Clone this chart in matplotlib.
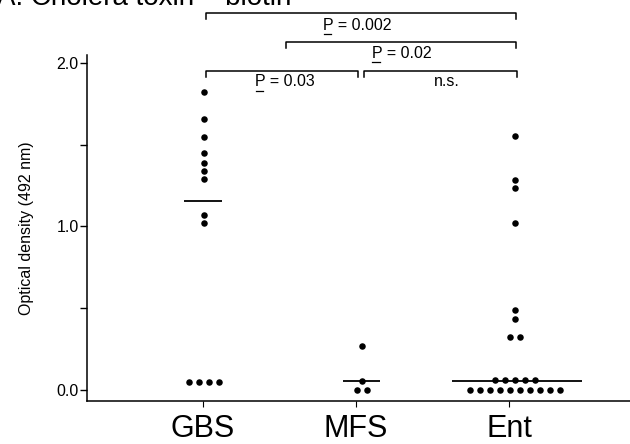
import numpy as np
import matplotlib
matplotlib.use("Agg")
import matplotlib.pyplot as plt

plt.rcParams['font.family'] = ['Liberation Sans', 'DejaVu Sans']

# groups and optical density values (492 nm)
groups = ['GBS', 'MFS', 'Ent']
gbs = [1.82, 1.66, 1.55, 1.45, 1.39, 1.34, 1.29, 1.07, 1.02,
       0.05, 0.05, 0.05, 0.05]
mfs = [0.27, 0.055, 0.0, 0.0]
ent = [1.555, 1.286, 1.234, 1.02, 0.49, 0.434, 0.326, 0.326,
       0.06, 0.06, 0.06, 0.06, 0.06,
       0.0, 0.0, 0.0, 0.0, 0.0, 0.0, 0.0, 0.0, 0.0, 0.0]
medians = [1.156, 0.055, 0.057]

# comparisons: (group a, group b, label)
comparisons = [('GBS', 'Ent', '0.002'), ('MFS', 'Ent', '0.02'),
               ('GBS', 'MFS', '0.03'), ('MFS', 'Ent', 'n.s.')]

fig = plt.figure(figsize=(6.3, 4.44), dpi=100)
ax = fig.add_axes([87/630, 43/444, 1 - 87/630, (401 - 54.8)/444])

# px -> data: x 153.15 px per group, y 163.5 px per unit
sx = 153.15
sy = 163.5
centers = [1.01, 2.04, 3.04]
line_c = [1.002, 2.037, 3.052]
line_hw = [0.121, 0.121, 0.425]
spacing = 10 / sx

for i, vals in enumerate([gbs, mfs, ent]):
    vals = np.array(vals)
    uv, cnt = np.unique(vals, return_counts=True)
    for v, n in zip(uv, cnt):
        xs = centers[i] + (np.arange(n) - (n - 1) / 2) * spacing
        ax.scatter(xs, np.full(n, v), s=22, color='black', lw=0, zorder=3)
    ax.hlines(medians[i], line_c[i] - line_hw[i], line_c[i] + line_hw[i],
              color='black', lw=1.3, zorder=2)

ax.set_xlim(1 + (87 - 202.7) / sx, 1 + (630 - 202.7) / sx)
ax.set_ylim(-11 / sy, 2.05)
ax.set_xticks([1, 2, 3])
ax.set_xticklabels(groups, fontsize=22)
ax.set_yticks([0, 1, 2])
ax.set_yticklabels(['0.0', '1.0', '2.0'], fontsize=11.5)
ax.set_yticks([0.5, 1.5], minor=True)
ax.tick_params(axis='y', which='both', length=5, width=1, direction='out', pad=1)
ax.tick_params(axis='x', length=4, width=0.8, direction='out', pad=5)
ax.set_ylabel('Optical density (492 nm)', fontsize=11.5, labelpad=16)
for s in ['top', 'right']:
    ax.spines[s].set_visible(False)
ax.spines['left'].set_linewidth(1.1)
ax.spines['bottom'].set_linewidth(1.1)

# significance brackets (data coords above the axes)
br = [
    (1.02, 3.048, 2.304, 2.011, 2.232),
    (1.542, 3.048, 2.130, 2.30, 2.059),
    (1.02, 2.012, 1.953, 1.537, 1.884),
    (2.055, 3.05, 1.953, 2.593, 1.884),
]
d = 6 / sy
ptexts = []
for (x1, x2, y, tx, ty), (_, _, lab) in zip(br, comparisons):
    ax.plot([x1, x1, x2, x2], [y - d, y, y, y - d], color='black', lw=1.1,
            clip_on=False)
    if lab == 'n.s.':
        ax.text(tx, ty, lab, ha='center', va='center', fontsize=11.5)
    else:
        t = ax.text(tx, ty, 'P = ' + lab, ha='center', va='center', fontsize=11.5)
        ptexts.append(t)

fig.text(-0.004, 1 - 5/444, 'A. Cholera toxin \u2013 biotin', fontsize=20,
         va='baseline', ha='left')

# underline the P
fig.canvas.draw()
r = fig.canvas.get_renderer()
for t in ptexts:
    bb = t.get_window_extent(r)
    x0 = bb.x0 + 0.5
    yb = bb.y0 - 1.5
    fig.add_artist(plt.Line2D([x0 / 630, (x0 + 7.5) / 630], [yb / 444, yb / 444],
                              color='black', lw=0.9))

fig.savefig('out.png', dpi=100)
